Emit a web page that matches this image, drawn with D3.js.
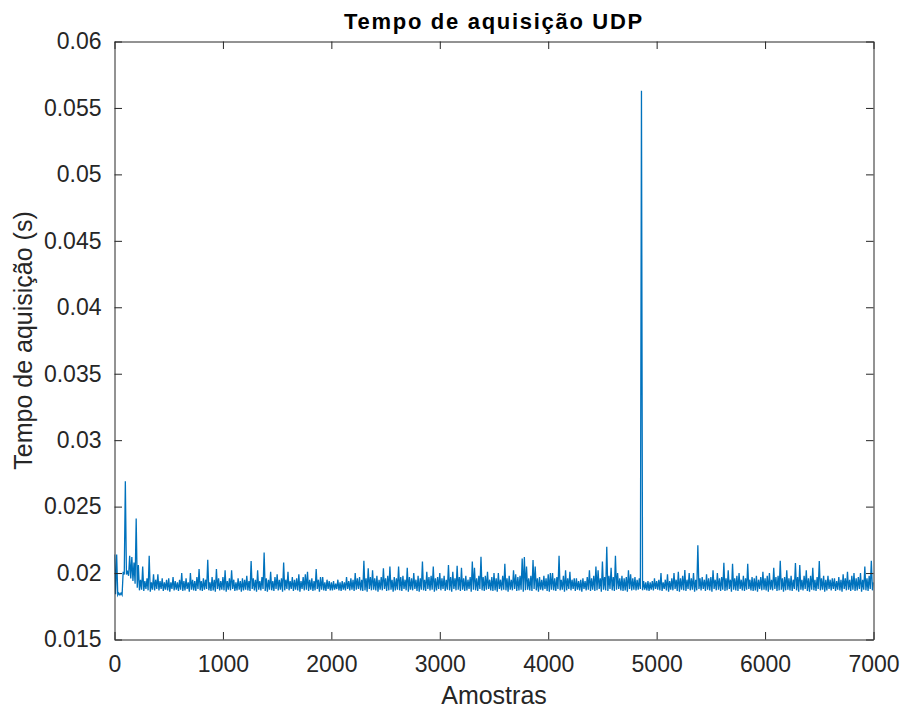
<!DOCTYPE html>
<html>
<head>
<meta charset="utf-8">
<script src="https://cdn.jsdelivr.net/npm/d3@7"></script>
<style>
  body { margin: 0; background: #fff; }
  text { font-family: "Liberation Sans", Arial, sans-serif; fill: #262626; }
</style>
</head>
<body>
<svg id="chart" width="904" height="713"></svg>
<script>
// tempo de aquisição em ms: máximo e mínimo de cada bloco de 20 amostras
var step = 20
var picoMs = [
  21.4, 21.4, 18.5, 18.5, 20.1, 26.9, 20.1, 21.3, 21.2, 20.8,
  24.1, 20.6, 19.5, 20.5, 19.4, 19.6, 21.3, 19.3, 19.9, 19.5,
  19.9, 19.4, 19.6, 19.3, 19.5, 19.6, 19.3, 19.7, 19.4, 19.3,
  19.5, 20.0, 19.4, 19.6, 19.3, 20.0, 19.5, 19.4, 19.7, 20.3,
  19.4, 19.6, 19.5, 21.0, 19.3, 19.7, 19.5, 20.3, 19.6, 19.4,
  19.7, 20.2, 19.4, 19.6, 20.2, 19.5, 19.3, 19.6, 19.4, 19.6,
  19.5, 19.8, 19.4, 20.9, 19.6, 19.5, 20.2, 19.4, 19.7, 21.55,
  19.6, 19.5, 20.1, 19.4, 19.7, 19.9, 19.5, 19.6, 20.8, 19.5,
  20.1, 19.4, 19.7, 19.5, 19.6, 19.9, 19.4, 19.7, 19.9, 20.1,
  19.5, 19.6, 19.4, 20.3, 19.5, 19.7, 19.7, 19.3, 19.5, 19.4,
  19.3, 19.4, 19.2, 19.5, 19.3, 19.4, 19.3, 19.7, 19.4, 19.6,
  19.5, 20.0, 19.6, 19.7, 19.5, 20.93, 19.6, 20.36, 19.7, 20.2,
  19.6, 19.8, 19.5, 19.7, 20.36, 19.6, 19.8, 20.5, 19.5, 19.7,
  19.6, 20.5, 19.7, 19.8, 19.5, 20.4, 19.7, 19.6, 20.0, 19.5,
  19.8, 19.6, 20.86, 19.5, 20.1, 19.7, 19.8, 20.5, 19.6, 19.7,
  20.0, 19.6, 19.8, 19.5, 20.6, 19.7, 20.1, 19.6, 20.55, 19.7,
  20.4, 19.6, 19.8, 19.5, 19.7, 20.86, 20.4, 19.6, 19.8, 21.23,
  19.7, 19.8, 20.1, 19.5, 19.7, 20.0, 19.6, 20.0, 19.5, 19.8,
  20.7, 19.6, 19.8, 19.5, 20.2, 19.9, 19.7, 19.8, 21.1, 21.2,
  20.5, 19.6, 19.8, 20.98, 20.5, 19.6, 19.7, 19.5, 19.8, 19.6,
  19.9, 20.0, 20.0, 19.6, 19.7, 21.3, 19.5, 19.8, 20.2, 19.6,
  20.1, 19.5, 19.6, 19.6, 19.4, 19.5, 19.6, 19.4, 19.7, 20.2,
  19.6, 19.8, 20.5, 20.2, 19.6, 20.86, 19.7, 21.98, 19.8, 20.4,
  19.7, 21.3, 20.0, 19.6, 19.8, 19.6, 19.7, 20.2, 19.9, 19.6,
  19.7, 19.5, 19.6, 56.3, 19.4, 19.3, 19.4, 19.3, 19.4, 19.6,
  19.4, 19.5, 20.0, 19.3, 19.5, 19.9, 19.4, 19.6, 20.0, 19.5,
  20.1, 19.6, 19.8, 20.23, 19.5, 20.0, 19.6, 20.0, 19.5, 22.1,
  19.6, 19.7, 19.5, 19.9, 19.6, 19.7, 20.2, 19.5, 20.0, 19.6,
  19.7, 20.78, 19.6, 20.2, 19.5, 20.7, 19.6, 19.8, 20.0, 19.5,
  19.8, 19.6, 20.7, 19.5, 19.7, 19.6, 19.8, 19.5, 19.7, 20.1,
  19.6, 19.8, 20.0, 19.5, 20.4, 19.7, 19.8, 20.93, 19.6, 19.7,
  20.2, 19.6, 19.8, 19.5, 20.75, 19.7, 20.6, 19.5, 19.8, 20.2,
  19.6, 19.8, 20.4, 19.5, 19.7, 20.9, 19.6, 19.8, 19.5, 19.8,
  19.5, 19.6, 19.6, 19.4, 19.7, 19.5, 19.9, 19.6, 20.1, 19.5,
  19.8, 20.0, 19.6, 19.7, 20.0, 19.5, 20.5, 19.6, 19.8, 20.93,
  19.3
]
var valeMs = [
  18.4, 18.35, 18.35, 18.35, 19.9, 19.9, 19.8, 19.6, 19.4, 19.2,
  18.9, 18.7, 18.75, 18.65, 18.8, 18.7, 18.6, 18.75, 18.7, 18.8,
  18.7, 18.8, 18.65, 18.75, 18.7, 18.6, 18.8, 18.7, 18.75, 18.65,
  18.75, 18.65, 18.7, 18.8, 18.6, 18.75, 18.7, 18.65, 18.8, 18.7,
  18.65, 18.75, 18.8, 18.7, 18.65, 18.7, 18.6, 18.8, 18.7, 18.75,
  18.7, 18.6, 18.75, 18.7, 18.8, 18.65, 18.7, 18.75, 18.6, 18.7,
  18.75, 18.7, 18.65, 18.8, 18.7, 18.6, 18.75, 18.7, 18.8, 18.65,
  18.6, 18.75, 18.7, 18.65, 18.8, 18.7, 18.75, 18.6, 18.7, 18.8,
  18.7, 18.8, 18.65, 18.75, 18.7, 18.6, 18.8, 18.7, 18.75, 18.65,
  18.75, 18.65, 18.7, 18.8, 18.6, 18.75, 18.7, 18.65, 18.8, 18.7,
  18.7, 18.75, 18.8, 18.7, 18.65, 18.75, 18.7, 18.8, 18.7, 18.75,
  18.65, 18.75, 18.8, 18.7, 18.65, 18.7, 18.6, 18.8, 18.7, 18.75,
  18.7, 18.6, 18.75, 18.7, 18.8, 18.65, 18.7, 18.75, 18.6, 18.7,
  18.75, 18.7, 18.65, 18.8, 18.7, 18.6, 18.75, 18.7, 18.8, 18.65,
  18.6, 18.75, 18.7, 18.65, 18.8, 18.7, 18.75, 18.6, 18.7, 18.8,
  18.7, 18.8, 18.65, 18.75, 18.7, 18.6, 18.8, 18.7, 18.75, 18.65,
  18.75, 18.65, 18.7, 18.8, 18.6, 18.75, 18.7, 18.65, 18.8, 18.7,
  18.65, 18.75, 18.8, 18.7, 18.65, 18.7, 18.6, 18.8, 18.7, 18.75,
  18.7, 18.6, 18.75, 18.7, 18.8, 18.65, 18.7, 18.75, 18.6, 18.7,
  18.75, 18.7, 18.65, 18.8, 18.7, 18.6, 18.75, 18.7, 18.8, 18.65,
  18.6, 18.75, 18.7, 18.65, 18.8, 18.7, 18.75, 18.6, 18.7, 18.8,
  18.7, 18.8, 18.65, 18.75, 18.7, 18.6, 18.8, 18.7, 18.75, 18.65,
  18.75, 18.65, 18.7, 18.8, 18.6, 18.75, 18.7, 18.65, 18.8, 18.7,
  18.65, 18.75, 18.8, 18.7, 18.65, 18.7, 18.6, 18.8, 18.7, 18.75,
  18.7, 18.75, 18.8, 18.7, 18.75, 18.7, 18.65, 18.75, 18.7, 18.8,
  18.75, 18.7, 18.65, 18.8, 18.7, 18.6, 18.75, 18.7, 18.8, 18.65,
  18.6, 18.75, 18.7, 18.65, 18.8, 18.7, 18.75, 18.6, 18.7, 18.8,
  18.7, 18.8, 18.65, 18.75, 18.7, 18.6, 18.8, 18.7, 18.75, 18.65,
  18.75, 18.65, 18.7, 18.8, 18.6, 18.75, 18.7, 18.65, 18.8, 18.7,
  18.65, 18.75, 18.8, 18.7, 18.65, 18.7, 18.6, 18.8, 18.7, 18.75,
  18.7, 18.6, 18.75, 18.7, 18.8, 18.65, 18.7, 18.75, 18.6, 18.7,
  18.75, 18.7, 18.65, 18.8, 18.7, 18.6, 18.75, 18.7, 18.8, 18.65,
  18.6, 18.75, 18.7, 18.65, 18.8, 18.7, 18.75, 18.6, 18.7, 18.8,
  18.7, 18.8, 18.65, 18.75, 18.7, 18.6, 18.8, 18.7, 18.75, 18.65,
  18.75, 18.65, 18.7, 18.8, 18.6, 18.75, 18.7, 18.65, 18.8, 18.7,
  18.8
]
var xTicks = [0, 1000, 2000, 3000, 4000, 5000, 6000, 7000]
var yTicks = [0.015, 0.02, 0.025, 0.03, 0.035, 0.04, 0.045, 0.05, 0.055, 0.06]
var yTickLabels = ['0.015', '0.02', '0.025', '0.03', '0.035', '0.04', '0.045', '0.05', '0.055', '0.06']

var svg = d3.select('#chart')
var pLeft = 114.5, pRight = 873.5, pTop = 41.5, pBottom = 639.5

var x = d3.scaleLinear().domain([0, 7000]).range([pLeft, pRight])
var y = d3.scaleLinear().domain([0.015, 0.06]).range([pBottom, pTop])

// pico no início do bloco, vale no meio
var pts = []
picoMs.forEach((v, i) => {
  pts.push([i * step, v / 1000])
  if (i * step + step / 2 <= 7000) pts.push([i * step + step / 2, valeMs[i] / 1000])
})

svg.append('defs').append('clipPath').attr('id', 'clip')
  .append('rect').attr('x', pLeft).attr('y', pTop)
  .attr('width', pRight - pLeft).attr('height', pBottom - pTop)

svg.append('path')
  .datum(pts)
  .attr('clip-path', 'url(#clip)')
  .attr('fill', 'none')
  .attr('stroke', '#0072BD')
  .attr('stroke-width', 1.3)
  .attr('d', d3.line().x(d => x(d[0])).y(d => y(d[1])))

// eixos (caixa com marcas para dentro, estilo matlab)
var tk = 7.5
var axes = [
  { g: d3.axisBottom(x).tickValues(xTicks).tickSize(-tk).tickPadding(16).tickFormat(d3.format('d')), t: 'translate(0,' + pBottom + ')' },
  { g: d3.axisTop(x).tickValues(xTicks).tickSize(-tk).tickFormat(''), t: 'translate(0,' + pTop + ')' },
  { g: d3.axisLeft(y).tickValues(yTicks).tickSize(-tk).tickPadding(13).tickFormat((d, i) => yTickLabels[i]), t: 'translate(' + pLeft + ',0)' },
  { g: d3.axisRight(y).tickValues(yTicks).tickSize(-tk).tickFormat(''), t: 'translate(' + pRight + ',0)' }
]
axes.forEach(a => {
  var g = svg.append('g').attr('transform', a.t).call(a.g.tickSizeOuter(0))
  g.selectAll('path.domain').attr('stroke', '#262626').attr('stroke-width', 1)
  g.selectAll('.tick line').attr('stroke', '#262626').attr('stroke-width', 1)
  g.selectAll('.tick text').attr('font-size', 23).attr('fill', '#262626')
    .attr('font-family', '"Liberation Sans", Arial, sans-serif')
})

svg.append('text')
  .attr('x', (pLeft + pRight) / 2).attr('y', 29)
  .attr('text-anchor', 'middle')
  .attr('font-size', 22).attr('font-weight', 'bold')
  .attr('letter-spacing', 1.7)
  .style('fill', '#000')
  .text('Tempo de aquisição UDP')

svg.append('text')
  .attr('x', (pLeft + pRight) / 2).attr('y', 704)
  .attr('text-anchor', 'middle')
  .attr('font-size', 25)
  .text('Amostras')

svg.append('text')
  .attr('transform', 'translate(32,' + (pTop + pBottom) / 2 + ') rotate(-90)')
  .attr('text-anchor', 'middle')
  .attr('font-size', 25)
  .text('Tempo de aquisição (s)')
</script>
</body>
</html>
